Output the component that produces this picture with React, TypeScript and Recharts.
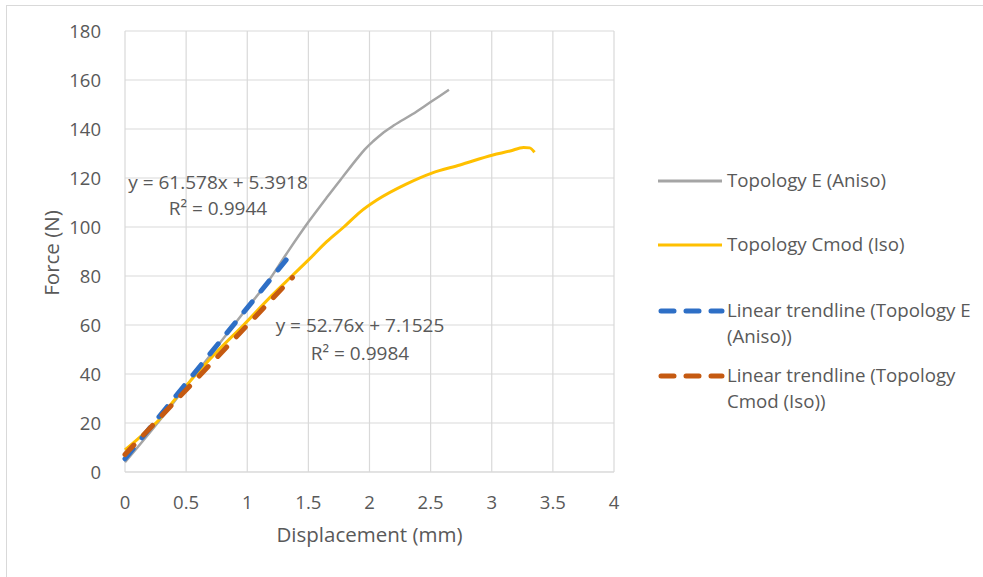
import { LineChart, Line, XAxis, YAxis, CartesianGrid } from 'recharts';

const xTicks = [0, 0.5, 1, 1.5, 2, 2.5, 3, 3.5, 4];
const yTicks = [0, 20, 40, 60, 80, 100, 120, 140, 160, 180];

// Topology E (Aniso)
const anisoDisp = [0, 0.25, 0.5, 0.75, 1.0, 1.16, 1.32, 1.5, 1.65, 1.79, 1.9, 1.96, 2.03, 2.1, 2.2, 2.35, 2.5, 2.65];
const anisoForce = [4, 19, 35, 51, 67, 77, 89, 102, 112, 121, 128, 131.6, 135, 138, 141.5, 146, 151, 156];

// Topology Cmod (Iso)
const isoDisp = [0, 0.15, 0.29, 0.35, 0.54, 0.75, 0.97, 1.2, 1.365, 1.52, 1.65, 1.79, 1.92, 2.06, 2.3, 2.51, 2.74, 3.01, 3.15, 3.26, 3.31, 3.35];
const isoForce = [9, 15.5, 22, 26, 37.5, 49, 60, 72, 80, 87.5, 94, 100, 106, 111, 117.5, 122, 125.3, 129.4, 131, 132.5, 132.3, 130.5];

// trendline end points as drawn
const trendAnisoDisp = [0, 1.33];
const trendAnisoForce = [5.4, 87.3];
const trendIsoDisp = [0, 1.37];
const trendIsoForce = [7.15, 79.4];

const toPoints = (xs: number[], ys: number[]) => xs.map((x, i) => ({ x, y: ys[i] }));

const aniso = toPoints(anisoDisp, anisoForce);
const iso = toPoints(isoDisp, isoForce);
const trendAniso = toPoints(trendAnisoDisp, trendAnisoForce);
const trendIso = toPoints(trendIsoDisp, trendIsoForce);

const FONT = '"Open Sans", Lato, sans-serif';
const TEXT = '#595959';

const legendItems = [
  { lines: ['Topology E (Aniso)'], color: '#a5a5a5', dashed: false, y: 181 },
  { lines: ['Topology Cmod (Iso)'], color: '#ffc000', dashed: false, y: 245 },
  { lines: ['Linear trendline (Topology E', '(Aniso))'], color: '#2e6fc6', dashed: true, y: 311 },
  { lines: ['Linear trendline (Topology', 'Cmod (Iso))'], color: '#c55a11', dashed: true, y: 376 },
];

const App = () => {
  return (
    <div style={{ position: 'absolute', left: 0, top: 0, width: 983, height: 577, background: '#fff', overflow: 'hidden', fontFamily: FONT }}>
      <div style={{ position: 'absolute', left: 6, top: 5, width: 990, height: 590, border: '1px solid #d9d9d9' }} />
      <LineChart width={983} height={577} margin={{ top: 31, right: 369, bottom: 45, left: 30 }}>
        <CartesianGrid stroke="#d9d9d9" strokeWidth={1.2} />
        <XAxis
          dataKey="x"
          type="number"
          domain={[0, 4]}
          ticks={xTicks}
          tickLine={false}
          axisLine={{ stroke: '#d9d9d9' }}
          tick={{ fill: TEXT, fontSize: 18.5, fontFamily: FONT }}
          tickMargin={18}
          height={60}
          label={{
            content: () => (
              <text x={369.5} y={542} textAnchor="middle" fill={TEXT} fontSize={20.5} fontFamily={FONT}>
                Displacement (mm)
              </text>
            ),
          }}
        />
        <YAxis
          type="number"
          domain={[0, 180]}
          ticks={yTicks}
          tickLine={false}
          axisLine={false}
          tick={{ fill: TEXT, fontSize: 18.5, fontFamily: FONT }}
          tickMargin={18}
          width={95}
          label={{
            content: () => (
              <text x={59} y={253} transform="rotate(-90 59 253)" textAnchor="middle" fill={TEXT} fontSize={20.5} fontFamily={FONT}>
                Force (N)
              </text>
            ),
          }}
        />
        <Line data={aniso} dataKey="y" type="monotone" stroke="#a5a5a5" strokeWidth={2.5} dot={false} isAnimationActive={false} />
        <Line data={iso} dataKey="y" type="monotone" stroke="#ffc000" strokeWidth={3} dot={false} isAnimationActive={false} />
        <Line data={trendAniso} dataKey="y" type="linear" stroke="#2e6fc6" strokeWidth={5} strokeDasharray="13 14" strokeLinecap="round" dot={false} isAnimationActive={false} />
        <Line data={trendIso} dataKey="y" type="linear" stroke="#c55a11" strokeWidth={5} strokeDasharray="13 14" strokeLinecap="round" dot={false} isAnimationActive={false} />
      </LineChart>

      <div style={{ position: 'absolute', left: 108, top: 169, width: 220, textAlign: 'center', color: TEXT, fontSize: 19, lineHeight: '26px' }}>
        <div>y = 61.578x + 5.3918</div>
        <div>R² = 0.9944</div>
      </div>
      <div style={{ position: 'absolute', left: 250, top: 311, width: 220, textAlign: 'center', color: TEXT, fontSize: 19, lineHeight: '28px' }}>
        <div>y = 52.76x + 7.1525</div>
        <div>R² = 0.9984</div>
      </div>

      {legendItems.map((item) => (
        <div key={item.lines[0]} style={{ position: 'absolute', left: 656, top: item.y - 13, color: TEXT, fontSize: 18.7 }}>
          <svg width={70} height={26} style={{ position: 'absolute', left: 0, top: 0 }}>
            {item.dashed ? (
              <line x1={5} y1={13} x2={66} y2={13} stroke={item.color} strokeWidth={5} strokeLinecap="round" strokeDasharray="13 12" />
            ) : (
              <line x1={2} y1={13} x2={66} y2={13} stroke={item.color} strokeWidth={3} />
            )}
          </svg>
          <div style={{ position: 'absolute', left: 71, top: -1, width: 250, lineHeight: '26px', whiteSpace: 'nowrap' }}>
            {item.lines.map((l) => (
              <div key={l}>{l}</div>
            ))}
          </div>
        </div>
      ))}
    </div>
  );
};

export default App;
